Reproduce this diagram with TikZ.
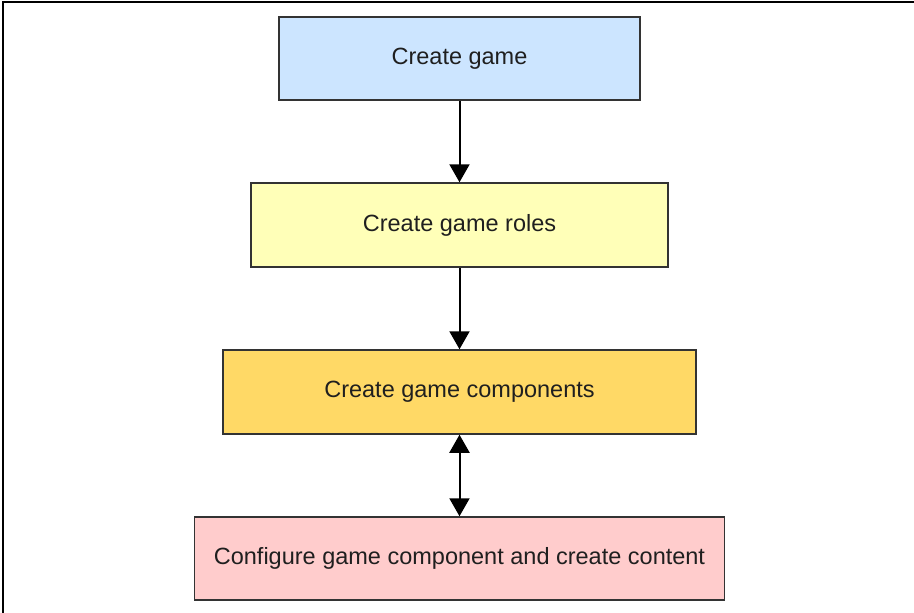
\documentclass[tikz,border=0pt]{standalone}
\usepackage{fontspec}
\setmainfont{Liberation Sans}
\usetikzlibrary{arrows.meta}
\definecolor{cblue}{HTML}{CCE5FF}
\definecolor{cyellow}{HTML}{FFFFB8}
\definecolor{corange}{HTML}{FFD966}
\definecolor{cpink}{HTML}{FFCCCC}
\definecolor{cborder}{HTML}{333333}
\begin{document}
\begin{tikzpicture}[x=1pt,y=-1pt,
  boxstyle/.style={draw=cborder, line width=1.5pt, inner sep=0pt, font=\fontsize{23.5}{28}\selectfont, text=black!88},
  conn/.style={line width=2pt, black, -{Triangle[width=20pt,length=18pt]}},
  conn2/.style={line width=2pt, black, {Triangle[width=20pt,length=18pt]}-{Triangle[width=20pt,length=18pt]}}]
\useasboundingbox (0,0) rectangle (914,613);
\fill[white] (0,0) rectangle (914,613);
\draw[line width=2.5pt] (3,613) -- (3,2) -- (914,2);
\node[boxstyle, fill=cblue, minimum width=361pt, minimum height=83pt] (a) at (459.5,58.5) {\raisebox{-2pt}{Create game}};
\node[boxstyle, fill=cyellow, minimum width=417pt, minimum height=84pt] (b) at (459.5,225) {\raisebox{-2pt}{Create game roles}};
\node[boxstyle, fill=corange, minimum width=473pt, minimum height=84pt] (c) at (459.5,392) {\raisebox{-2pt}{Create game components}};
\node[boxstyle, fill=cpink, minimum width=530pt, minimum height=83pt] (d) at (459.5,558.5) {\raisebox{-2pt}{Configure game component and create content}};
\draw[conn] (a.south) -- (b.north);
\draw[conn] (b.south) -- (c.north);
\draw[conn2] (c.south) -- (d.north);
\end{tikzpicture}
\end{document}
